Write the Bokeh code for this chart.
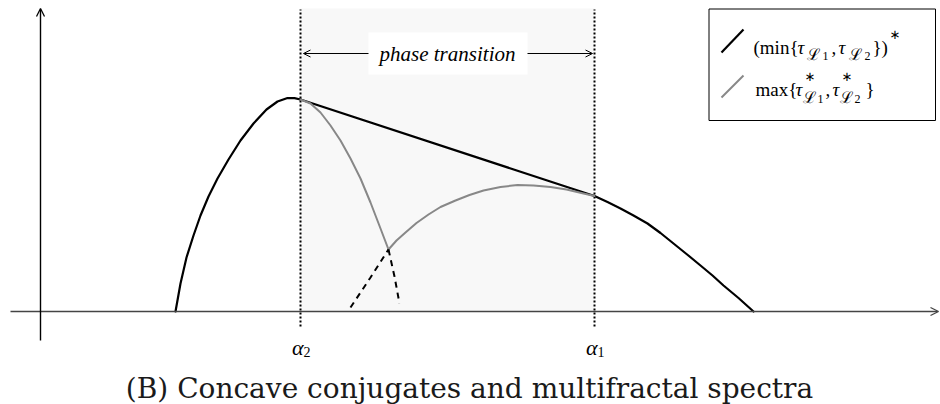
from bokeh.plotting import figure
from bokeh.models import Range1d, Arrow, OpenHead, Label
from bokeh.embed import file_html
from bokeh.resources import INLINE

# ---------------- data (abscissa alpha, ordinate spectrum value) ----------------
alpha2 = 2.60
alpha1 = 5.54
tick_labels = ["α", "α"]
tick_subs = ["2", "1"]
tick_positions = [alpha2, alpha1]

# left spectrum  tau*_{L2}: solid black part (zero .. alpha2)
left_solid_x = [1.35, 1.40, 1.46, 1.53, 1.60, 1.68, 1.77, 1.88, 2.00, 2.13, 2.26, 2.37, 2.47, 2.54, 2.60]
left_solid_y = [0.00, 0.28, 0.54, 0.76, 0.96, 1.15, 1.33, 1.52, 1.71, 1.88, 2.02, 2.10, 2.135, 2.133, 2.12]
# left spectrum: grey part (alpha2 .. crossing)
left_grey_x = [2.60, 2.70, 2.80, 2.90, 3.00, 3.10, 3.20, 3.30, 3.40, 3.48]
left_grey_y = [2.12, 2.08, 1.99, 1.86, 1.71, 1.53, 1.33, 1.09, 0.83, 0.62]
# left spectrum: dashed tail (crossing .. end)
left_dash_x = [3.48, 3.54, 3.59]
left_dash_y = [0.62, 0.35, 0.08]

# right spectrum tau*_{L1}: dashed tail (start .. crossing)
right_dash_x = [3.10, 3.30, 3.48]
right_dash_y = [0.04, 0.34, 0.62]
# right spectrum: grey part (crossing .. alpha1)
right_grey_x = [3.48, 3.56, 3.65, 3.76, 3.88, 4.00, 4.15, 4.29, 4.43, 4.60, 4.77, 4.93, 5.10, 5.26, 5.43, 5.54]
right_grey_y = [0.62, 0.71, 0.79, 0.885, 0.97, 1.045, 1.11, 1.165, 1.21, 1.245, 1.265, 1.26, 1.245, 1.22, 1.18, 1.155]
# right spectrum: solid black part (alpha1 .. zero)
right_solid_x = [5.54, 5.67, 5.80, 5.93, 6.07, 6.20, 6.33, 6.46, 6.60, 6.72, 6.83, 6.98, 7.13]
right_solid_y = [1.155, 1.095, 1.03, 0.96, 0.88, 0.785, 0.68, 0.575, 0.46, 0.36, 0.26, 0.135, 0.00]

# concave hull: straight segment between the two tangency points
hull_x = [alpha2, alpha1]
hull_y = [2.12, 1.155]

caption = "(B) Concave conjugates and multifractal spectra"
band_label = "phase transition"

# ---------------- figure ----------------
W, H = 940, 404
X0, X1 = -0.40, 9.00
Y0, Y1 = -0.93, 3.11


def X(px):  # page pixel -> data x (annotations only)
    return X0 + px * (X1 - X0) / W


def Y(py):
    return Y1 - py * (Y1 - Y0) / H


p = figure(width=W, height=H, x_range=Range1d(X0, X1), y_range=Range1d(Y0, Y1),
           output_backend="svg", toolbar_location=None, min_border=0,
           x_axis_location=None, y_axis_location=None)
p.grid.visible = False
p.outline_line_color = None
p.background_fill_color = "white"
p.border_fill_color = "white"

# shaded phase-transition band
p.quad(left=[alpha2], right=[alpha1], bottom=[0], top=[Y(8)], fill_color="#f8f8f8", line_color=None)

# dotted verticals
p.segment(x0=tick_positions, y0=[Y(326)] * 2, x1=tick_positions, y1=[Y(9)] * 2,
          line_color="black", line_width=2, line_dash="2 2")

# white box behind label
p.quad(left=[X(368)], right=[X(527)], bottom=[Y(74)], top=[Y(32)], fill_color="white", line_color=None)

# curves
lk = dict(line_join="round", line_cap="round")
p.line(left_solid_x, left_solid_y, line_color="black", line_width=2.2, **lk)
p.line(right_solid_x, right_solid_y, line_color="black", line_width=2.2, **lk)
p.line(hull_x, hull_y, line_color="black", line_width=2.2, **lk)
p.line(left_grey_x, left_grey_y, line_color="#888888", line_width=2, **lk)
p.line(right_grey_x, right_grey_y, line_color="#888888", line_width=2, **lk)
p.line(left_dash_x, left_dash_y, line_color="black", line_width=2, line_dash="6 5")
p.line(right_dash_x, right_dash_y, line_color="black", line_width=2, line_dash="6 5")

# axes with arrows
p.add_layout(Arrow(end=OpenHead(size=8, line_width=1.3, line_color="#444444"),
                   x_start=X(10), y_start=0, x_end=X(938), y_end=0,
                   line_color="#444444", line_width=1.6))
p.add_layout(Arrow(end=OpenHead(size=8, line_width=1.3, line_color="black"),
                   x_start=0, y_start=Y(340), x_end=0, y_end=Y(8),
                   line_color="black", line_width=1.4))

# phase transition arrows
ya = Y(53)
p.add_layout(Arrow(end=OpenHead(size=7, line_width=1), x_start=X(368), y_start=ya,
                   x_end=X(303), y_end=ya, line_width=1))
p.add_layout(Arrow(end=OpenHead(size=7, line_width=1), x_start=X(527), y_start=ya,
                   x_end=X(592), y_end=ya, line_width=1))
p.add_layout(Label(x=X(447), y=ya, text=band_label, text_font="Liberation Serif",
                   text_font_style="italic", text_font_size="21px", text_color="black",
                   text_align="center", text_baseline="middle"))

# tick labels alpha_2, alpha_1
for pos, t, s in zip(tick_positions, tick_labels, tick_subs):
    p.add_layout(Label(x=pos + 0.03, y=Y(347), text=t, text_font="Liberation Serif",
                       text_font_style="italic", text_font_size="22px", text_color="black",
                       text_align="right", text_baseline="alphabetic"))
    p.add_layout(Label(x=pos + 0.03, y=Y(351), text=s, text_font="Liberation Serif",
                       text_font_size="14px", text_color="black",
                       text_align="left", text_baseline="alphabetic"))

# caption
p.add_layout(Label(x=X(469), y=Y(388), text=caption, text_font="DejaVu Serif",
                   text_font_size="28px", text_color="#1a1a1a",
                   text_align="center", text_baseline="alphabetic"))

# legend box
p.quad(left=[X(708.5)], right=[X(935)], bottom=[Y(120)], top=[Y(8.5)],
       fill_color="white", line_color="black", line_width=1)
p.segment(x0=[X(721)], y0=[Y(52)], x1=[X(743)], y1=[Y(29)], line_color="black", line_width=2.2)
p.segment(x0=[X(721)], y0=[Y(97)], x1=[X(743)], y1=[Y(75)], line_color="#888888", line_width=2)


def put(px, py, text, size, italic=False, font="Liberation Serif", baseline="alphabetic"):
    p.add_layout(Label(x=X(px), y=Y(py), text=text, text_font=font,
                       text_font_style="italic" if italic else "normal",
                       text_font_size=f"{size}px", text_color="black",
                       text_align="left", text_baseline=baseline))


STAR = "∗"
# legend line 1: (min{tau_L1, tau_L2})*
put(753, 47, "(min{", 19)
put(797, 47, "τ", 19, italic=True)
put(806, 54, "ℒ", 16, font="DejaVu Serif")
put(822, 55, "1", 12)
put(831, 47, ",", 19)
put(838, 47, "τ", 19, italic=True)
put(848, 54, "ℒ", 16, font="DejaVu Serif")
put(864, 55, "2", 12)
put(872, 47, "})", 19)
put(889, 34, STAR, 13, font="DejaVu Sans", baseline="middle")

# legend line 2: max{tau*_L1, tau*_L2}
put(755, 89, "max{", 19)
put(795, 89, "τ", 19, italic=True)
put(804, 76, STAR, 13, font="DejaVu Sans", baseline="middle")
put(802, 97, "ℒ", 16, font="DejaVu Serif")
put(817, 98, "1", 12)
put(825, 89, ",", 19)
put(832, 89, "τ", 19, italic=True)
put(841, 76, STAR, 13, font="DejaVu Sans", baseline="middle")
put(839, 97, "ℒ", 16, font="DejaVu Serif")
put(854, 98, "2", 12)
put(865, 89, "}", 19)

open("out.html", "w").write(file_html(p, INLINE))
